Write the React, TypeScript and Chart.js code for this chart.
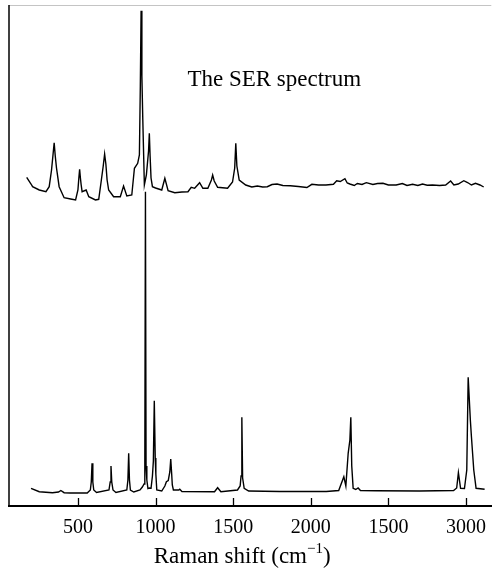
import React, { useEffect, useRef } from 'react';
import { Chart, registerables } from 'chart.js';

Chart.register(...registerables);

// SER spectrum (upper trace), Raman shift (cm^-1) and intensity (arbitrary units)
const serShift = [
  170, 198, 208, 251, 294, 315, 330, 340, 347, 354, 362, 379, 411, 453, 485, 500, 506, 511, 516, 521,
  527, 553, 570, 613, 634, 651, 663, 672, 680, 688, 698, 730, 773, 794, 815, 847, 864, 885, 896, 902,
  907, 912, 918, 928, 941, 955, 960, 965, 971, 980, 1000, 1040, 1060, 1081, 1124, 1170, 1209, 1230, 1252, 1284,
  1305, 1337, 1360, 1368, 1378, 1400, 1464, 1496, 1510, 1517, 1524, 1539, 1581, 1620, 1656, 1690, 1720, 1750, 1783, 1820,
  1868, 1920, 1975, 2007, 2050, 2098, 2146, 2167, 2190, 2220, 2235, 2252, 2280, 2300, 2330, 2358, 2400, 2430, 2465, 2500,
  2550, 2590, 2620, 2656, 2690, 2720, 2750, 2784, 2830, 2869, 2901, 2922, 2950, 2986, 3010, 3035, 3061, 3090, 3114,
];
const serIntensity = [
  328.7, 322, 319.3, 316, 314.3, 319.3, 336, 352, 363.3, 350, 338, 319.3, 308.3, 307, 306, 316, 328, 336.7, 328, 321,
  314.3, 316, 309.3, 306, 306.7, 326, 340, 352, 342, 326, 316, 309.3, 309.3, 320, 310, 311, 337.7, 342.7, 351, 420,
  495.3, 430, 386, 321, 331, 355, 372.7, 350, 328, 319.3, 318, 316, 327.7, 315.3, 313.3, 314, 314.3, 318.7, 317.7, 323.3,
  317.7, 317.7, 326, 331, 325, 318.7, 317.7, 324, 338, 362.7, 340, 326, 321, 319, 320, 319, 319.3, 321.5, 322, 320.5,
  320.3, 319.5, 318.5, 321.7, 321, 321, 321.7, 325.3, 324.5, 327.3, 323, 322, 320.5, 322.5, 321.5, 323.3, 321.5, 322.5, 322.7, 321,
  321, 322.5, 320.5, 321.7, 320.5, 322, 320.8, 321, 320.5, 321, 325, 321, 322, 325.3, 323.5, 321, 322.7, 321, 319,
];

// Normal Raman spectrum (lower trace)
const ramanShift = [
  198, 251, 336, 375, 390, 411, 450, 560, 580, 586, 591, 596, 602, 620, 700, 708, 713, 718, 726, 745,
  815, 822, 827, 832, 838, 860, 900, 915, 926, 931, 935, 939, 944, 951, 960, 971, 980, 986, 992, 998,
  1002, 1008, 1040, 1060, 1070, 1082, 1092, 1098, 1104, 1108, 1115, 1150, 1156, 1170, 1380, 1400, 1421, 1528, 1545, 1551,
  1556, 1561, 1571, 1600, 1800, 2100, 2180, 2213, 2226, 2241, 2252, 2258, 2264, 2273, 2290, 2305, 2320, 2422, 2700, 2920,
  2940, 2951, 2965, 2990, 3005, 3014, 3028, 3035, 3050, 3065, 3120,
];
const ramanIntensity = [
  17.7, 14.3, 13.3, 14, 15.5, 13.3, 13, 13, 16, 24, 42.7, 24, 16, 13.5, 16, 24, 40, 24, 16, 13.5,
  16, 26, 52.7, 26, 16, 14, 16, 19, 22, 45, 314.3, 40, 26, 17.5, 18, 17.7, 30, 45, 105.3, 48,
  32, 16, 15, 20, 24.3, 25.5, 34, 47, 32, 21, 16, 16, 16.7, 14.5, 14.3, 18.3, 14.3, 16, 20, 30,
  88.7, 28, 17.7, 15, 14.5, 14.5, 15.5, 29.3, 20, 52.7, 66, 88.7, 40, 17.7, 16.5, 18, 15.5, 15.3, 15, 15.5,
  18, 33.3, 17.7, 17.5, 36, 128.7, 86, 69.3, 36, 17.7, 16.7,
];

const tickValues = [500, 1000, 1500, 2000, 2500, 3000];
const tickLabels = ['500', '1000', '1500', '2000', '1500', '3000'];

const annotationText = 'The SER spectrum';
const annotationShift = 1765;
const annotationLevel = 426;

const axisTitleMain = 'Raman shift (cm';
const axisTitleSup = '\u22121';
const axisTitleEnd = ')';

const SERIF = '"Liberation Serif", "Times New Roman", serif';

const decorPlugin = {
  id: 'decor',
  afterDraw(chart: any) {
    const { ctx, chartArea: a, scales } = chart;
    const xs = scales.x;
    const ys = scales.y;
    ctx.save();
    // light top frame line
    ctx.strokeStyle = '#c4c4c4';
    ctx.lineWidth = 1;
    ctx.beginPath();
    ctx.moveTo(a.left, a.top + 0.5);
    ctx.lineTo(a.right, a.top + 0.5);
    ctx.stroke();
    // left frame line
    ctx.strokeStyle = '#000';
    ctx.lineWidth = 1.5;
    ctx.beginPath();
    ctx.moveTo(a.left, a.top);
    ctx.lineTo(a.left, a.bottom);
    ctx.stroke();
    // inward tick marks
    ctx.lineWidth = 1.3;
    ctx.beginPath();
    for (const v of tickValues) {
      const px = Math.round(xs.getPixelForValue(v)) + 0.5;
      ctx.moveTo(px, a.bottom);
      ctx.lineTo(px, a.bottom - 8);
    }
    ctx.stroke();
    // annotation
    ctx.fillStyle = '#000';
    ctx.font = `23px ${SERIF}`;
    ctx.textAlign = 'center';
    ctx.textBaseline = 'middle';
    ctx.fillText(annotationText, xs.getPixelForValue(annotationShift), ys.getPixelForValue(annotationLevel));
    // axis title with superscript
    const mainFont = `23px ${SERIF}`;
    const supFont = `15px ${SERIF}`;
    ctx.font = mainFont;
    const w1 = ctx.measureText(axisTitleMain).width;
    const w3 = ctx.measureText(axisTitleEnd).width;
    ctx.font = supFont;
    const w2 = ctx.measureText(axisTitleSup).width;
    const total = w1 + w2 + w3;
    const cx = (xs.left + xs.right) / 2 - 8;
    let x0 = cx - total / 2;
    const baseY = a.bottom + 57;
    ctx.textAlign = 'left';
    ctx.textBaseline = 'alphabetic';
    ctx.font = mainFont;
    ctx.fillText(axisTitleMain, x0, baseY);
    x0 += w1;
    ctx.font = supFont;
    ctx.fillText(axisTitleSup, x0, baseY - 10);
    x0 += w2;
    ctx.font = mainFont;
    ctx.fillText(axisTitleEnd, x0, baseY);
    ctx.restore();
  },
};

export default function App() {
  const canvasRef = useRef<HTMLCanvasElement | null>(null);

  useEffect(() => {
    if (!canvasRef.current) return;
    const chart = new Chart(canvasRef.current, {
      type: 'line',
      data: {
        datasets: [
          {
            label: 'SER spectrum',
            data: serShift.map((x, i) => ({ x, y: serIntensity[i] })),
            borderColor: '#000',
            borderWidth: 1.4,
            pointRadius: 0,
            tension: 0,
            fill: false,
          },
          {
            label: 'Raman spectrum',
            data: ramanShift.map((x, i) => ({ x, y: ramanIntensity[i] })),
            borderColor: '#000',
            borderWidth: 1.4,
            pointRadius: 0,
            tension: 0,
            fill: false,
          },
        ],
      },
      options: {
        responsive: false,
        animation: false,
        devicePixelRatio: 1,
        layout: { padding: { left: 9, top: 5, right: 0, bottom: 0 } },
        plugins: {
          legend: { display: false },
          title: { display: false },
          tooltip: { enabled: false },
        },
        scales: {
          x: {
            type: 'linear',
            min: 56,
            max: 3163,
            position: 'bottom',
            grid: { display: false, drawTicks: false },
            border: { display: true, color: '#000', width: 2 },
            afterBuildTicks: (scale: any) => {
              scale.ticks = tickValues.map((v) => ({ value: v }));
            },
            afterFit: (scale: any) => {
              scale.height = 67;
            },
            ticks: {
              autoSkip: false,
              maxRotation: 0,
              padding: 10,
              color: '#000',
              font: { family: SERIF, size: 20 },
              callback: (value: any) => {
                const idx = tickValues.indexOf(Number(value));
                return idx >= 0 ? tickLabels[idx] : '';
              },
            },
          },
          y: {
            type: 'linear',
            display: false,
            min: 0,
            max: 501,
          },
        },
      },
      plugins: [decorPlugin],
    });
    return () => chart.destroy();
  }, []);

  return (
    <div style={{ position: 'absolute', left: 0, top: 0, width: 496, height: 573, background: '#fff' }}>
      <canvas ref={canvasRef} width={496} height={573} />
    </div>
  );
}
